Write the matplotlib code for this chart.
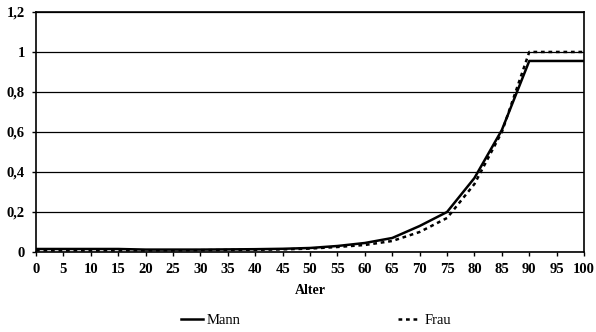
import matplotlib
matplotlib.use("Agg")
import matplotlib.pyplot as plt
import numpy as np

alter = [0, 5, 10, 15, 20, 25, 30, 35, 40, 45, 50, 55, 60, 65, 70, 75, 80, 85, 90, 95, 100]
mann = [0.015, 0.015, 0.015, 0.015, 0.012, 0.012, 0.012, 0.013, 0.014, 0.016, 0.02, 0.03, 0.045, 0.07, 0.13, 0.2, 0.37, 0.61, 0.955, 0.955, 0.955]
frau = [0.008, 0.008, 0.008, 0.008, 0.008, 0.008, 0.009, 0.01, 0.011, 0.013, 0.017, 0.025, 0.035, 0.055, 0.1, 0.17, 0.34, 0.6, 1.0, 1.0, 1.0]

plt.rcParams['font.family'] = ['Liberation Serif', 'DejaVu Serif']

fig = plt.figure(figsize=(5.96, 3.32), dpi=100)
ax = fig.add_axes([0.0604, 0.241, 0.9196, 0.723])

ax.plot(alter, mann, color='black', lw=1.8, label='Mann')
ax.plot(alter, frau, color='black', lw=1.8, ls=(0, (1.5, 1.5)), label='Frau')

ax.set_xlim(0, 100)
ax.set_ylim(0, 1.2)
ax.set_xticks(range(0, 101, 5))
ax.set_yticks(np.arange(0, 1.21, 0.2))
ax.set_yticklabels(['0', '0,2', '0,4', '0,6', '0,8', '1', '1,2'])
ax.grid(axis='y', color='black', lw=0.9)
ax.set_axisbelow(True)
for s in ax.spines.values():
    s.set_linewidth(1.2)
ax.tick_params(direction='out', length=3, width=1, labelsize=10.5, pad=5)
for lab in ax.get_xticklabels() + ax.get_yticklabels():
    lab.set_fontweight('bold')
ax.set_xlabel('Alter', fontweight='bold', fontsize=10, labelpad=6)

fig.legend(loc='lower center', bbox_to_anchor=(0.53, -0.025), ncol=2, frameon=False,
           fontsize=10.5, handlelength=1.5, handletextpad=0.3, columnspacing=10.8)

fig.savefig('out.png', dpi=100)
